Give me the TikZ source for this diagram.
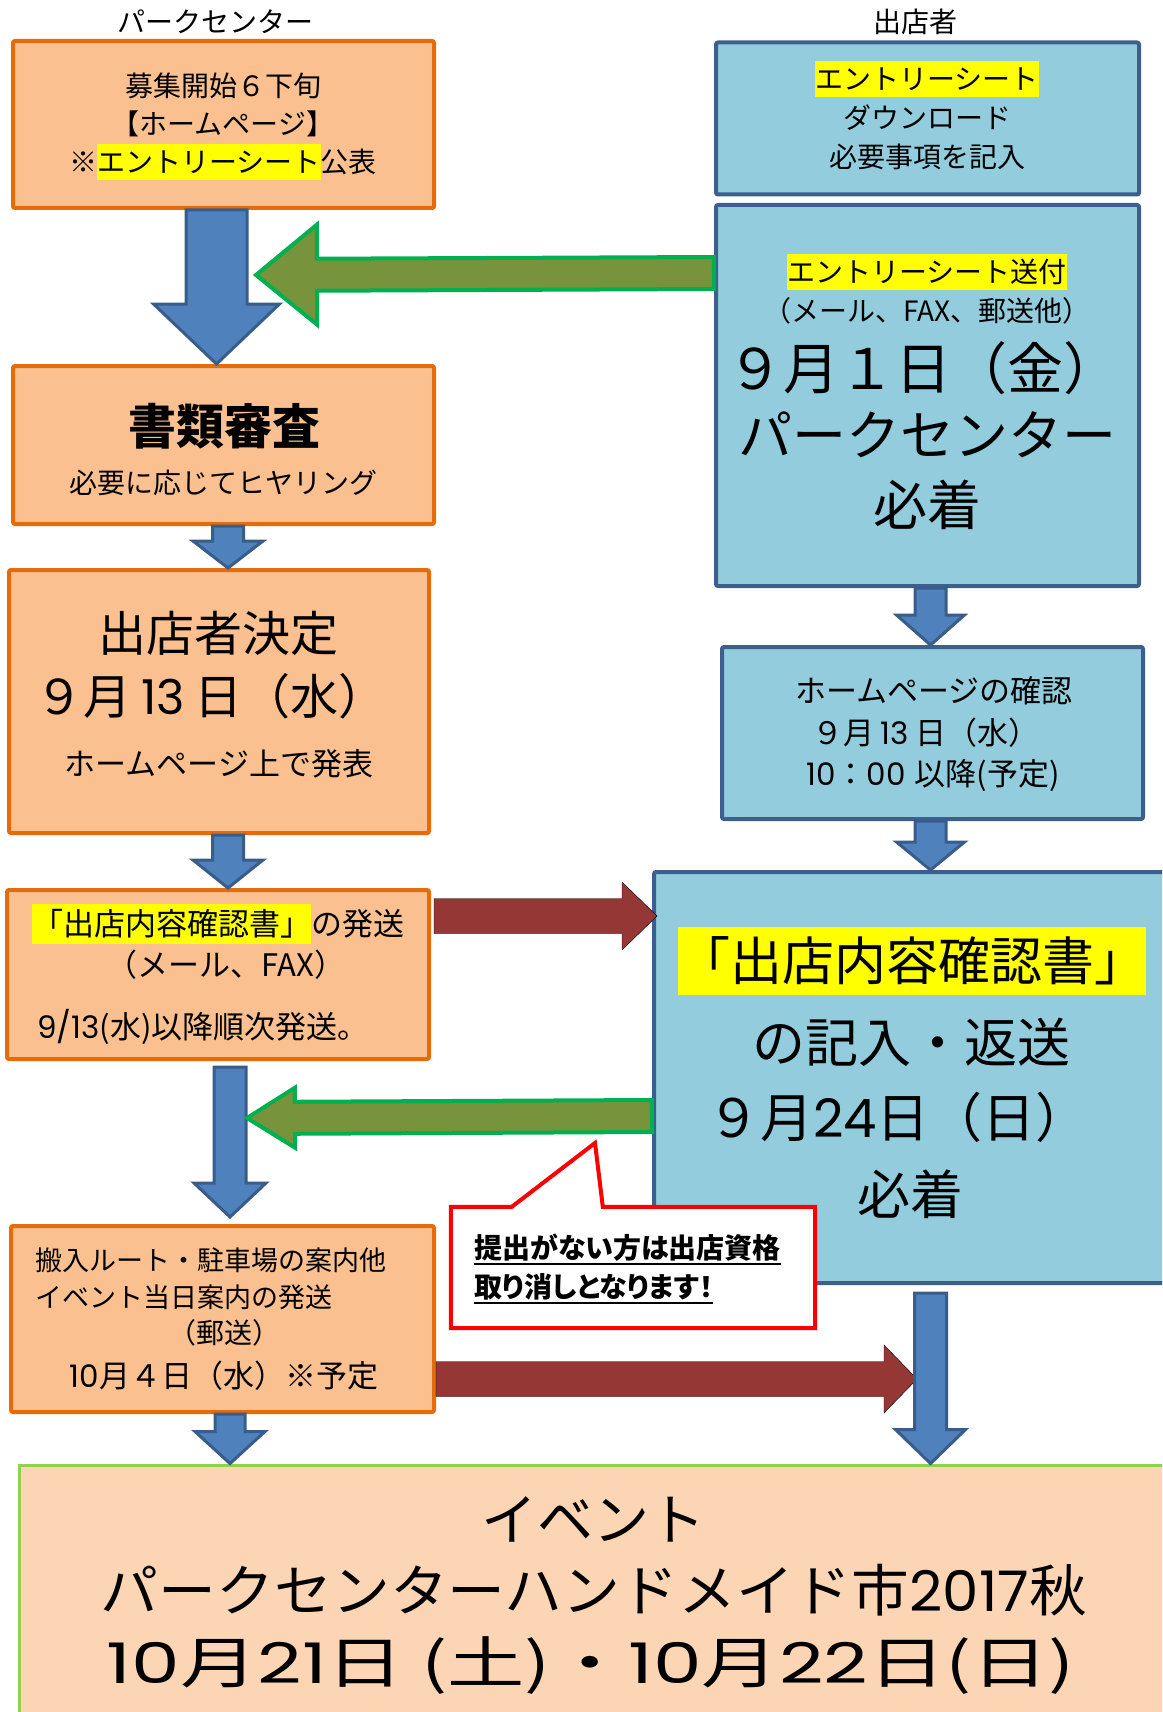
\documentclass[tikz,border=0pt]{standalone}
\usepackage{fontspec}
\usepackage{graphicx}
\setmainfont{Noto Sans CJK JP}
\newfontfamily\jpprop[RawFeature=+palt]{Noto Sans CJK JP}
\newfontfamily\dgf{Poppins}
\usetikzlibrary{calc}

\definecolor{orfill}{HTML}{FAC090}
\definecolor{orline}{HTML}{E46C0A}
\definecolor{blfill}{HTML}{93CDDD}
\definecolor{blline}{HTML}{3C5F8E}
\definecolor{arblue}{HTML}{4F81BD}
\definecolor{arblueline}{HTML}{385D8A}
\definecolor{argreen}{HTML}{77933C}
\definecolor{argreenline}{HTML}{00B050}
\definecolor{arred}{HTML}{953735}
\definecolor{hlyellow}{HTML}{FFFF00}
\definecolor{evfill}{HTML}{FCD5B5}
\definecolor{evline}{HTML}{92D050}
\definecolor{notered}{HTML}{FF0000}

\newcommand\fs[1]{\fontsize{#1pt}{#1pt}\selectfont}
\newcommand\st{\rule[-0.28em]{0pt}{1.32em}}
\newcommand\hly[1]{{\setlength{\fboxsep}{0pt}\colorbox{hlyellow}{\st#1}}}
\newcommand\ulbar[1]{\setbox0=\hbox{#1}\rlap{\rule[-0.22em]{\wd0}{0.07em}}\box0}
\newcommand\dg[1]{{\dgf #1}}
\newcommand\dgs[1]{\hspace{0.2em}{\dgf #1}\hspace{0.2em}}

% block arrow: style, from, tip, shaft half width, head half width, head length
\newcommand{\blockarrow}[6][]{%
  \coordinate (bah) at ($(#3)!#6!(#2)$);
  \draw[#1] ($(#2)!#4!90:(#3)$) -- ($(bah)!#4!90:(#3)$) -- ($(bah)!#5!90:(#3)$)
    -- (#3) -- ($(bah)!#5!-90:(#3)$) -- ($(bah)!#4!-90:(#3)$)
    -- ($(#2)!#4!-90:(#3)$) -- cycle;}

\tikzset{
  obox/.style={draw=orline, fill=orfill, line width=4pt, rounded corners=2pt},
  bbox/.style={draw=blline, fill=blfill, line width=4pt, rounded corners=2pt},
  evbox/.style={draw=evline, fill=evfill, line width=3pt},
  bluearr/.style={draw=arblueline, fill=arblue, line width=3pt, line join=miter},
  greenarr/.style={draw=argreenline, fill=argreen, line width=4pt, line join=miter},
  redarr/.style={fill=arred},
  noteline/.style={draw=notered, fill=white, line width=4pt},
  txt/.style={inner sep=0pt, execute at begin node=\st},
}

\begin{document}
\begin{tikzpicture}[x=1pt,y=-1pt]
\useasboundingbox (0,0) rectangle (1162,1712);
\clip (0,0) rectangle (1162,1712);

% boxes
\node[obox, minimum width=421, minimum height=167] (l1) at (223.5,124.5) {};
\node[bbox, minimum width=423, minimum height=152] (r1) at (927.5,118.5) {};
\node[bbox, minimum width=423, minimum height=381] (r2) at (927.5,395.5) {};
\node[obox, minimum width=421, minimum height=158] (l2) at (223.5,445) {};
\node[obox, minimum width=420, minimum height=263] (l3) at (219,701.5) {};
\node[bbox, minimum width=421, minimum height=172] (r3) at (932.5,733) {};
\node[obox, minimum width=422, minimum height=169] (l4) at (218,974.5) {};
\node[bbox, minimum width=530, minimum height=411] (r4) at (919,1077.5) {};
\node[obox, minimum width=423, minimum height=186] (l5) at (222.5,1319) {};
\node[evbox, minimum width=1171, minimum height=275] (ev) at (604.5,1602.5) {};

% arrows
\coordinate (a1s) at ($(l1.south)+(-7,0)$);
\coordinate (a1e) at (a1s |- l2.north);
\blockarrow[bluearr]{a1s}{a1e}{30.5pt}{63pt}{60pt}
\coordinate (a2s) at ($(l2.south)+(4.5,0)$);
\coordinate (a2e) at (a2s |- l3.north);
\blockarrow[bluearr]{a2s}{a2e}{15.5pt}{35pt}{27pt}
\coordinate (a3s) at ($(l3.south)+(9,0)$);
\coordinate (a3e) at (a3s |- l4.north);
\blockarrow[bluearr]{a3s}{a3e}{15.5pt}{35pt}{28pt}
\coordinate (a4s) at ($(l4.south)+(12,6)$);
\coordinate (a4e) at ($(a4s |- l5.north)+(0,-7)$);
\blockarrow[bluearr]{a4s}{a4e}{16pt}{36pt}{34pt}
\coordinate (a5s) at ($(l5.south)+(7.5,0)$);
\coordinate (a5e) at (a5s |- ev.north);
\blockarrow[bluearr]{a5s}{a5e}{15pt}{35pt}{32pt}
\coordinate (b1s) at ($(r2.south)+(3,0)$);
\coordinate (b1e) at (b1s |- r3.north);
\blockarrow[bluearr]{b1s}{b1e}{15.5pt}{34pt}{30pt}
\coordinate (b2s) at (b1s |- r3.south);
\coordinate (b2e) at (b1s |- r4.north);
\blockarrow[bluearr]{b2s}{b2e}{15.5pt}{34pt}{28pt}
\coordinate (g1s) at ($(r2.north west)+(0,70)$);
\coordinate (g1e) at (256,275);
\blockarrow[greenarr]{g1s}{g1e}{16pt}{50pt}{61pt}
\coordinate (g2s) at ($(r4.north west)+(0,246)$);
\coordinate (g2e) at (247,1118);
\blockarrow[greenarr]{g2s}{g2e}{16pt}{30pt}{48pt}
\coordinate (d1s) at ($(l4.north east)+(3,28)$);
\coordinate (d1e) at ($(d1s -| r4.west)+(5,0)$);
\blockarrow[redarr]{d1s}{d1e}{17.5pt}{34pt}{35pt}
\coordinate (d2s) at ($(l5.east)+(0,60)$);
\coordinate (d2e) at (917,1379);
\blockarrow[redarr]{d2s}{d2e}{17.5pt}{34pt}{33pt}
\coordinate (b3s) at ($(b1s |- r4.south)+(0,8)$);
\coordinate (b3e) at (b1s |- ev.north);
\blockarrow[bluearr]{b3s}{b3e}{16pt}{35pt}{34pt}

% note
\path node[minimum width=364, minimum height=121, inner sep=0pt] (note) at (633,1267.5) {};
\coordinate (ntip) at (595,1143);
\draw[noteline] (note.north west) -- ++(61,0) -- (ntip) -- ($(note.north west)+(152,0)$)
  -- (note.north east) -- (note.south east) -- (note.south west) -- cycle;

% titles
\node[txt, font=\fs{28}] (pc) at (215,22) {パークセンター};
\node[txt, font=\fs{28}] (sh) at (915,22) {出店者};

% texts
\node[txt, font=\fs{28}] (l1a) at (223,86) {募集開始６下旬};
\node[txt, font=\fs{28}] (l1b) at (223,124) {【ホームページ】};
\node[txt, font=\fs{28}] (l1c) at (223,162) {※\hly{エントリーシート}公表};

\node[txt, font=\fs{28}] (r1a) at (927,79) {\hly{エントリーシート}};
\node[txt, font=\fs{28}] (r1b) at (927,118) {ダウンロード};
\node[txt, font=\fs{28}] (r1c) at (927,157) {必要事項を記入};

\node[txt, font=\fs{28}] (r2a) at (927,272) {\hly{エントリーシート送付}};
\node[txt, font=\fs{28}] (r2b) at (927,311) {（メール、FAX、郵送他）};
\node[txt, font=\fs{56}] (r2c) at (923,368) {９月１日（金）};
\node[txt, font=\fs{54}] (r2d) at (927,435) {パークセンター};
\node[txt, font=\fs{54}] (r2e) at (927,505) {必着};

\node[txt, font=\fs{48}\bfseries] (l2a) at (224,426) {書類審査};
\node[txt, font=\fs{28}] (l2b) at (223,483) {必要に応じてヒヤリング};

\node[txt, font=\fs{48}] (l3a) at (218,633) {出店者決定};
\node[txt, font=\fs{48}] (l3b) at (211,696) {９月\dgs{13}日（水）};
\node[txt, font=\fs{31}] (l3c) at (219,764) {ホームページ上で発表};

\node[txt, font=\fs{31}] (r3a) at (934,691) {ホームページの確認};
\node[txt, font=\fs{31}] (r3b) at (926,733) {９月\dgs{13}日（水）};
\node[txt, font=\fs{31}] (r3c) at (933,774) {\dg{10}：\dg{00}\hspace{0.3em}以降(予定)};

\node[txt, font=\fs{31}] (l4a) at (218,924) {\hly{「出店内容確認書」}の発送};
\node[txt, font=\fs{31}] (l4b) at (226,965) {（メール、FAX）};
\node[txt, font=\fs{31}] (l4c) at (203,1027) {\dg{9/13}(水)以降順次発送。};

\node[txt, font=\fs{52}] (r4a) at (912,961) {\hly{「出店内容確認書」}};
\node[txt, font=\fs{53}] (r4b) at (911,1042) {の記入・返送};
\node[txt, font=\fs{53}] (r4c) at (898,1117) {９月\dg{24}日（日）};
\node[txt, font=\fs{53}] (r4d) at (910,1194) {必着};

\node[txt, font=\fs{28}\jpprop\bfseries, anchor=west] (na) at (474,1248) {\ulbar{提出がない方は出店資格}};
\node[txt, font=\fs{28}\jpprop\bfseries, anchor=west] (nb) at (474,1287) {\ulbar{取り消しとなります！}};

\node[txt, font=\fs{27}, anchor=west] (l5a) at (35,1260) {搬入ルート・駐車場の案内他};
\node[txt, font=\fs{27}, anchor=west] (l5b) at (35,1297) {イベント当日案内の発送};
\node[txt, font=\fs{28}] (l5c) at (224,1333) {（郵送）};
\node[txt, font=\fs{31}] (l5d) at (224,1376) {\dg{10}月４日（水）※予定};

\node[txt, font=\fs{56}] (eva) at (593,1519) {イベント};
\node[txt, font=\fs{56}] (evb) at (594,1590) {\resizebox{986pt}{\height}{パークセンターハンドメイド市\dg{2017}秋}};
\node[txt, font=\fs{56}] (evc) at (591,1662) {\resizebox{968pt}{\height}{\dg{10}月\dg{21}日 (土)・\dg{10}月\dg{22}日(日)}};
\end{tikzpicture}
\end{document}
